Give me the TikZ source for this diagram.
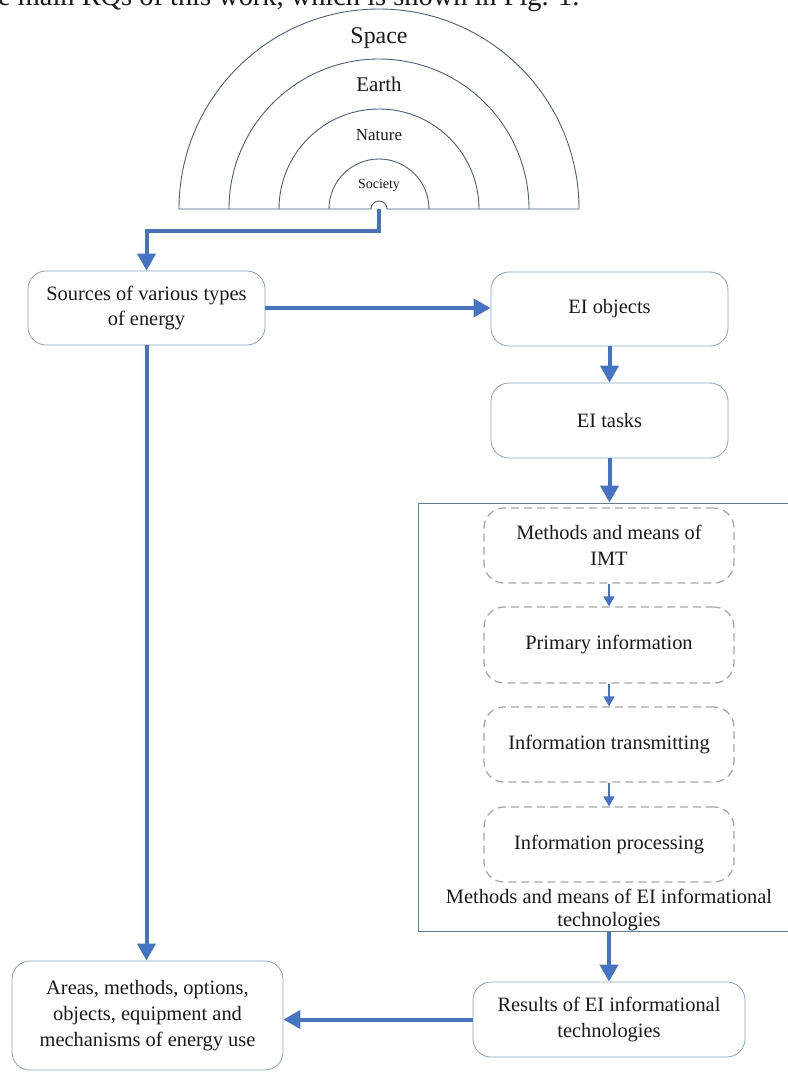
\documentclass[tikz,border=0pt]{standalone}
\usepackage{fontspec}
\setmainfont{Liberation Serif}
\usetikzlibrary{arrows.meta}
\definecolor{flow}{HTML}{4472C4}
\definecolor{boxline}{HTML}{8AA2C4}
\definecolor{arcline}{HTML}{4F5E7C}
\definecolor{dashline}{HTML}{A8A8A8}
\definecolor{framecol}{HTML}{5A79A6}
\definecolor{ink}{HTML}{1A1A1A}
\begin{document}
\begin{tikzpicture}[x=1bp,y=-1bp,
  box/.style={draw=boxline, line width=0.8bp, rounded corners=18bp, align=center,
    font=\fontsize{20.5}{26}\selectfont, text=ink, inner sep=0pt},
  dbox/.style={draw=dashline, line width=1.3bp, dash pattern=on 8bp off 5bp,
    rounded corners=20bp, align=center, font=\fontsize{20.5}{26}\selectfont, text=ink,
    inner sep=0pt, minimum width=250bp},
  bigarrow/.style={draw=flow, line width=4bp, -{Triangle[length=17bp,width=18bp]}},
  smallarrow/.style={draw=flow, line width=1.5bp, -{Triangle[length=10bp,width=11bp]}},
  arcstyle/.style={draw=arcline, line width=0.9bp},
  lbl/.style={anchor=base, text=ink, inner sep=0pt}]
\clip (0,0) rectangle (788,1073);
\useasboundingbox (0,0) rectangle (788,1073);
\fill[white] (0,0) rectangle (788,1073);

% cut-off caption text at the top
\node[anchor=base west, inner sep=0pt, text=ink, font=\fontsize{28.5}{30}\selectfont] (cut) at (-2,5) {e main RQs of this work, which is shown in Fig. 1.};

% nested semicircles
\draw[arcstyle] (179,209) arc[start angle=180, end angle=360, radius=200];
\draw[arcstyle] (229,209) arc[start angle=180, end angle=360, radius=150];
\draw[arcstyle] (279,209) arc[start angle=180, end angle=360, radius=100];
\draw[arcstyle] (329,209) arc[start angle=180, end angle=360, radius=50];
\draw[arcstyle] (179,209) -- (371,209) arc[start angle=180, end angle=360, radius=8] -- (579,209);
\node[lbl, font=\fontsize{24}{26}\selectfont] (space) at (379,43) {Space};
\node[lbl, font=\fontsize{21}{24}\selectfont] (earth) at (379,91) {Earth};
\node[lbl, font=\fontsize{17}{20}\selectfont] (nature) at (379,140) {Nature};
\node[lbl, font=\fontsize{14}{16}\selectfont] (society) at (379,188) {Society};
\coordinate (soc) at (379,209);

% main boxes
\node[box, minimum width=237bp, minimum height=74bp] (src) at (146.5,308) {Sources of various types\\of energy};
\node[box, minimum width=237bp, minimum height=74bp] (obj) at (609.5,309) {EI objects};
\node[box, minimum width=237bp, minimum height=75bp] (tasks) at (609.5,420.5) {EI tasks};

% frame of EI information technologies
\node[draw=framecol, line width=1bp, minimum width=382bp, minimum height=428bp, inner sep=0pt] (itbox) at (609,717) {};
\node[dbox, minimum height=75bp] (imt) at (609,545.5) {Methods and means of\\IMT};
\node[dbox, minimum height=76bp] (prim) at (609,645) {Primary information};
\node[dbox, minimum height=75bp] (trans) at (609,744.5) {Information transmitting};
\node[dbox, minimum height=75bp] (proc) at (609,844.5) {Information processing};
\node[align=center, text=ink, inner sep=0pt, font=\fontsize{20.5}{23.5}\selectfont] (itlabel) at (609,910) {Methods and means of EI informational\\technologies};

\node[box, minimum width=272bp, minimum height=75bp] (res) at (609,1019.5) {Results of EI informational\\technologies};
\node[box, minimum width=271bp, minimum height=109bp] (areas) at (147.5,1015.5) {Areas, methods, options,\\objects, equipment and\\mechanisms of energy use};

% connectors
\draw[bigarrow] (soc) -- (379,231) -| (src.north);
\draw[bigarrow] (src.east) -- (src.east -| obj.west);
\draw[bigarrow] (obj.south) -- (tasks.north);
\draw[bigarrow] (tasks.south) -- (tasks.south |- itbox.north);
\draw[smallarrow] (imt.south) -- (prim.north);
\draw[smallarrow] (prim.south) -- (trans.north);
\draw[smallarrow] (trans.south) -- (proc.north);
\draw[bigarrow] (itbox.south) -- (res.north);
\draw[bigarrow] (src.south) -- (src.south |- areas.north);
\draw[bigarrow] (res.west) -- (res.west -| areas.east);
\end{tikzpicture}
\end{document}
